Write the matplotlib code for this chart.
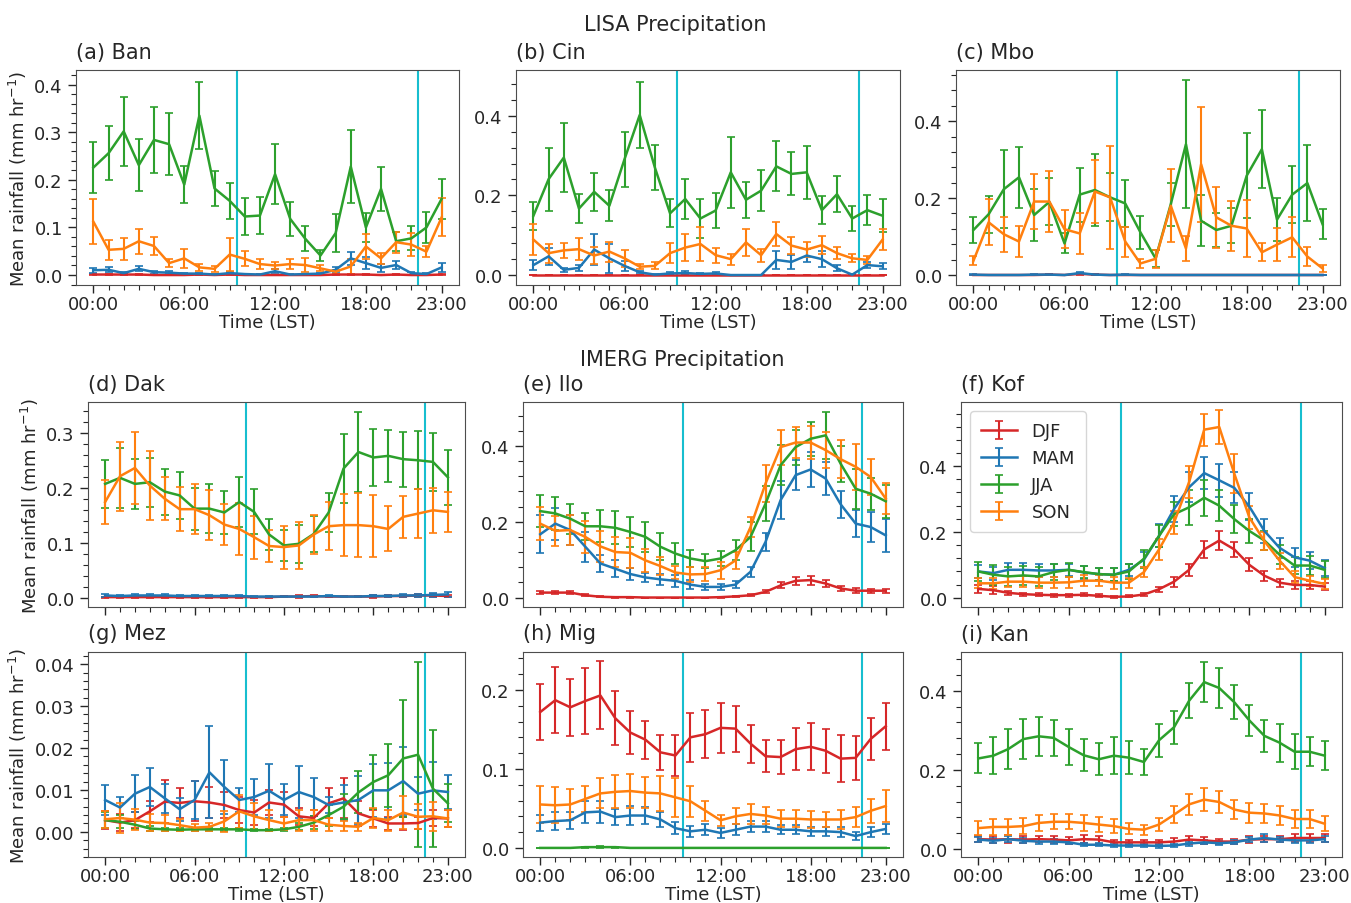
import matplotlib
matplotlib.use("Agg")
import matplotlib.pyplot as plt
from matplotlib.ticker import AutoMinorLocator, FixedLocator

hours = list(range(24))
hour_ticks = [0, 6, 12, 18, 23]
hour_labels = ["00:00", "06:00", "12:00", "18:00", "23:00"]
seasons = ["DJF", "MAM", "JJA", "SON"]
colors = ["tab:red", "tab:blue", "tab:green", "tab:orange"]
day_start, day_end = 9.47, 21.45

# ---- LISA ----
ban_djf = [0.001, 0.001, 0.001, 0.001, 0.000, 0.000, 0.000, 0.001, 0.000, 0.001, 0.000, 0.000,
           0.000, 0.000, 0.000, 0.000, 0.001, 0.001, 0.001, 0.000, 0.001, 0.000, 0.000, 0.001]
ban_djf_err = [0.0005, 0.0005, 0.0005, 0.0005, 0.0003, 0.0003, 0.0003, 0.0005, 0.0003, 0.0005, 0.0003, 0.0003,
               0.0003, 0.0003, 0.0003, 0.0003, 0.0005, 0.0005, 0.0005, 0.0003, 0.0005, 0.0003, 0.0003, 0.0005]
ban_mam = [0.010, 0.011, 0.004, 0.013, 0.006, 0.005, 0.003, 0.003, 0.001, 0.004, 0.002, 0.001,
           0.008, 0.001, 0.002, 0.003, 0.011, 0.035, 0.025, 0.015, 0.021, 0.004, 0.002, 0.016]
ban_mam_err = [0.005, 0.005, 0.002, 0.005, 0.003, 0.003, 0.002, 0.002, 0.001, 0.002, 0.001, 0.001,
               0.004, 0.001, 0.001, 0.002, 0.005, 0.013, 0.012, 0.008, 0.008, 0.003, 0.002, 0.009]
ban_jja = [0.226, 0.256, 0.302, 0.231, 0.284, 0.275, 0.190, 0.335, 0.182, 0.156, 0.123, 0.125,
           0.212, 0.118, 0.076, 0.041, 0.088, 0.228, 0.100, 0.181, 0.071, 0.077, 0.100, 0.160]
ban_jja_err = [0.053, 0.057, 0.072, 0.055, 0.069, 0.065, 0.039, 0.071, 0.037, 0.038, 0.038, 0.038,
               0.063, 0.035, 0.026, 0.012, 0.040, 0.076, 0.030, 0.047, 0.020, 0.025, 0.032, 0.042]
ban_son = [0.112, 0.053, 0.055, 0.071, 0.061, 0.025, 0.035, 0.016, 0.013, 0.043, 0.034, 0.023,
           0.020, 0.023, 0.021, 0.014, 0.007, 0.018, 0.060, 0.035, 0.069, 0.064, 0.049, 0.121]
ban_son_err = [0.047, 0.021, 0.023, 0.026, 0.019, 0.009, 0.020, 0.007, 0.006, 0.034, 0.016, 0.010,
               0.008, 0.010, 0.014, 0.006, 0.004, 0.016, 0.026, 0.012, 0.022, 0.024, 0.012, 0.040]

cin_djf = [0.000, 0.000, 0.000, 0.000, 0.000, 0.000, 0.000, 0.000, 0.000, 0.000, 0.000, 0.000,
           0.000, 0.000, 0.000, 0.000, 0.000, 0.000, 0.000, 0.000, 0.000, 0.000, 0.000, 0.000]
cin_djf_err = [0.0003, 0.0003, 0.0003, 0.0003, 0.0003, 0.0003, 0.0003, 0.0003, 0.0003, 0.0003, 0.0003, 0.0003,
               0.0003, 0.0003, 0.0003, 0.0003, 0.0003, 0.0003, 0.0003, 0.0003, 0.0003, 0.0003, 0.0003, 0.0003]
cin_mam = [0.025, 0.047, 0.013, 0.018, 0.064, 0.042, 0.023, 0.007, 0.001, 0.004, 0.005, 0.003,
           0.004, 0.000, 0.000, 0.000, 0.038, 0.033, 0.049, 0.040, 0.017, 0.001, 0.025, 0.022]
cin_mam_err = [0.012, 0.022, 0.005, 0.007, 0.040, 0.037, 0.012, 0.003, 0.001, 0.003, 0.005, 0.003,
               0.004, 0.000, 0.000, 0.000, 0.023, 0.018, 0.017, 0.020, 0.008, 0.001, 0.008, 0.008]
cin_jja = [0.149, 0.241, 0.295, 0.167, 0.209, 0.174, 0.291, 0.402, 0.270, 0.155, 0.191, 0.142,
           0.162, 0.258, 0.189, 0.212, 0.273, 0.254, 0.258, 0.163, 0.203, 0.142, 0.163, 0.149]
cin_jja_err = [0.035, 0.079, 0.086, 0.036, 0.048, 0.039, 0.069, 0.084, 0.056, 0.035, 0.050, 0.049,
               0.044, 0.089, 0.045, 0.051, 0.063, 0.054, 0.067, 0.036, 0.045, 0.031, 0.038, 0.041]
cin_son = [0.089, 0.055, 0.062, 0.065, 0.049, 0.059, 0.042, 0.021, 0.023, 0.055, 0.069, 0.078,
           0.050, 0.040, 0.082, 0.050, 0.103, 0.074, 0.064, 0.075, 0.055, 0.042, 0.038, 0.089]
cin_son_err = [0.038, 0.024, 0.019, 0.027, 0.021, 0.025, 0.021, 0.007, 0.009, 0.025, 0.033, 0.042,
               0.019, 0.014, 0.033, 0.016, 0.031, 0.021, 0.018, 0.022, 0.015, 0.010, 0.010, 0.026]

mbo_djf = [0.000, 0.000, 0.000, 0.000, 0.000, 0.001, 0.000, 0.003, 0.001, 0.000, 0.000, 0.000,
           0.000, 0.000, 0.000, 0.000, 0.000, 0.000, 0.000, 0.000, 0.000, 0.000, 0.000, 0.000]
mbo_djf_err = [0.0003, 0.0003, 0.0003, 0.0003, 0.0003, 0.0005, 0.0003, 0.002, 0.0005, 0.0003, 0.0003, 0.0003,
               0.0003, 0.0003, 0.0003, 0.0003, 0.0003, 0.0003, 0.0003, 0.0003, 0.0003, 0.0003, 0.0003, 0.0003]
mbo_mam = [0.001, 0.000, 0.000, 0.000, 0.001, 0.001, 0.000, 0.005, 0.001, 0.000, 0.001, 0.000,
           0.000, 0.000, 0.000, 0.000, 0.000, 0.000, 0.000, 0.000, 0.000, 0.000, 0.000, 0.000]
mbo_mam_err = [0.001, 0.0003, 0.0003, 0.0003, 0.0005, 0.0005, 0.0003, 0.003, 0.0005, 0.0003, 0.001, 0.0003,
               0.0003, 0.0003, 0.0003, 0.0003, 0.0003, 0.0003, 0.0003, 0.0003, 0.0003, 0.0003, 0.0003, 0.0003]
mbo_jja = [0.117, 0.158, 0.223, 0.254, 0.156, 0.190, 0.082, 0.209, 0.221, 0.202, 0.186, 0.111,
           0.043, 0.184, 0.340, 0.141, 0.117, 0.128, 0.258, 0.327, 0.144, 0.209, 0.239, 0.132]
mbo_jja_err = [0.034, 0.048, 0.102, 0.080, 0.068, 0.061, 0.026, 0.070, 0.093, 0.062, 0.060, 0.043,
               0.022, 0.056, 0.167, 0.066, 0.043, 0.045, 0.111, 0.102, 0.056, 0.074, 0.099, 0.039]
mbo_son = [0.037, 0.137, 0.106, 0.087, 0.191, 0.191, 0.119, 0.108, 0.217, 0.202, 0.087, 0.030,
           0.042, 0.180, 0.069, 0.288, 0.150, 0.128, 0.121, 0.059, 0.079, 0.098, 0.048, 0.017]
mbo_son_err = [0.012, 0.060, 0.045, 0.041, 0.072, 0.080, 0.050, 0.054, 0.081, 0.134, 0.039, 0.012,
               0.023, 0.095, 0.032, 0.149, 0.079, 0.065, 0.074, 0.023, 0.043, 0.052, 0.024, 0.009]

# ---- IMERG ----
dak_djf = [0.001, 0.001, 0.001, 0.001, 0.001, 0.001, 0.001, 0.001, 0.001, 0.001, 0.001, 0.001,
           0.002, 0.002, 0.003, 0.002, 0.002, 0.002, 0.002, 0.003, 0.003, 0.004, 0.004, 0.003]
dak_djf_err = [0.001, 0.001, 0.001, 0.001, 0.001, 0.001, 0.001, 0.001, 0.001, 0.001, 0.001, 0.001,
               0.001, 0.002, 0.002, 0.001, 0.001, 0.001, 0.002, 0.002, 0.002, 0.002, 0.002, 0.002]
dak_mam = [0.004, 0.003, 0.004, 0.004, 0.004, 0.003, 0.003, 0.003, 0.003, 0.003, 0.002, 0.002,
           0.002, 0.002, 0.002, 0.003, 0.002, 0.002, 0.003, 0.003, 0.004, 0.004, 0.005, 0.006]
dak_mam_err = [0.003, 0.002, 0.002, 0.002, 0.002, 0.001, 0.001, 0.001, 0.002, 0.001, 0.001, 0.001,
               0.001, 0.001, 0.001, 0.001, 0.001, 0.001, 0.001, 0.001, 0.002, 0.002, 0.003, 0.004]
dak_jja = [0.207, 0.218, 0.207, 0.210, 0.193, 0.186, 0.162, 0.162, 0.155, 0.174, 0.156, 0.115,
           0.095, 0.098, 0.116, 0.155, 0.235, 0.265, 0.255, 0.258, 0.252, 0.250, 0.247, 0.219]
dak_jja_err = [0.044, 0.055, 0.045, 0.045, 0.042, 0.042, 0.038, 0.044, 0.039, 0.045, 0.041, 0.028,
               0.029, 0.035, 0.033, 0.036, 0.063, 0.072, 0.051, 0.047, 0.050, 0.053, 0.053, 0.050]
dak_son = [0.174, 0.221, 0.236, 0.204, 0.180, 0.161, 0.161, 0.150, 0.133, 0.125, 0.110, 0.094,
           0.092, 0.095, 0.115, 0.130, 0.132, 0.132, 0.130, 0.125, 0.147, 0.153, 0.159, 0.156]
dak_son_err = [0.040, 0.063, 0.066, 0.062, 0.039, 0.040, 0.045, 0.046, 0.038, 0.048, 0.039, 0.030,
               0.039, 0.042, 0.036, 0.044, 0.057, 0.058, 0.056, 0.041, 0.038, 0.045, 0.041, 0.036]

ilo_djf = [0.013, 0.013, 0.013, 0.006, 0.002, 0.001, 0.001, 0.000, 0.000, 0.000, 0.000, 0.000,
           0.001, 0.003, 0.006, 0.015, 0.032, 0.044, 0.046, 0.037, 0.024, 0.018, 0.018, 0.018]
ilo_djf_err = [0.003, 0.003, 0.003, 0.002, 0.001, 0.001, 0.001, 0.000, 0.000, 0.000, 0.000, 0.000,
               0.001, 0.001, 0.002, 0.004, 0.008, 0.010, 0.012, 0.010, 0.006, 0.006, 0.005, 0.005]
ilo_mam = [0.167, 0.195, 0.178, 0.134, 0.090, 0.076, 0.062, 0.053, 0.048, 0.044, 0.034, 0.028,
           0.028, 0.034, 0.068, 0.147, 0.257, 0.323, 0.338, 0.314, 0.246, 0.195, 0.186, 0.164]
ilo_mam_err = [0.050, 0.042, 0.040, 0.040, 0.022, 0.022, 0.015, 0.013, 0.015, 0.015, 0.011, 0.007,
               0.007, 0.010, 0.013, 0.024, 0.050, 0.040, 0.046, 0.044, 0.035, 0.035, 0.040, 0.044]
ilo_jja = [0.228, 0.222, 0.208, 0.188, 0.188, 0.184, 0.173, 0.160, 0.134, 0.116, 0.103, 0.096,
           0.103, 0.125, 0.160, 0.248, 0.349, 0.397, 0.419, 0.428, 0.353, 0.287, 0.274, 0.254]
ilo_jja_err = [0.042, 0.043, 0.040, 0.036, 0.042, 0.044, 0.040, 0.040, 0.036, 0.028, 0.022, 0.018,
               0.019, 0.026, 0.038, 0.046, 0.053, 0.046, 0.045, 0.062, 0.048, 0.053, 0.042, 0.044]
ilo_son = [0.195, 0.176, 0.178, 0.160, 0.135, 0.120, 0.118, 0.098, 0.083, 0.066, 0.061, 0.062,
           0.072, 0.098, 0.186, 0.301, 0.397, 0.409, 0.409, 0.389, 0.365, 0.345, 0.318, 0.261]
ilo_son_err = [0.044, 0.040, 0.040, 0.043, 0.040, 0.040, 0.039, 0.031, 0.023, 0.018, 0.020, 0.019,
               0.022, 0.022, 0.026, 0.048, 0.046, 0.041, 0.043, 0.047, 0.050, 0.060, 0.048, 0.040]

kof_djf = [0.027, 0.023, 0.015, 0.011, 0.009, 0.008, 0.008, 0.009, 0.006, 0.003, 0.004, 0.010,
           0.026, 0.049, 0.085, 0.147, 0.174, 0.147, 0.100, 0.067, 0.046, 0.039, 0.039, 0.034]
kof_djf_err = [0.013, 0.012, 0.007, 0.005, 0.005, 0.005, 0.005, 0.005, 0.004, 0.003, 0.003, 0.004,
               0.008, 0.015, 0.018, 0.025, 0.030, 0.022, 0.020, 0.015, 0.012, 0.012, 0.012, 0.010]
kof_mam = [0.080, 0.075, 0.085, 0.085, 0.083, 0.083, 0.085, 0.077, 0.072, 0.070, 0.085, 0.116,
           0.188, 0.270, 0.336, 0.379, 0.357, 0.334, 0.277, 0.203, 0.152, 0.123, 0.113, 0.090]
kof_mam_err = [0.021, 0.020, 0.020, 0.020, 0.020, 0.020, 0.019, 0.019, 0.019, 0.020, 0.019, 0.023,
               0.035, 0.040, 0.045, 0.049, 0.051, 0.047, 0.041, 0.037, 0.031, 0.028, 0.027, 0.024]
kof_jja = [0.080, 0.070, 0.065, 0.068, 0.065, 0.078, 0.085, 0.078, 0.072, 0.070, 0.080, 0.119,
           0.188, 0.254, 0.275, 0.304, 0.280, 0.239, 0.203, 0.174, 0.131, 0.098, 0.098, 0.085]
kof_jja_err = [0.030, 0.030, 0.028, 0.028, 0.028, 0.024, 0.022, 0.019, 0.018, 0.020, 0.022, 0.027,
               0.034, 0.036, 0.053, 0.055, 0.047, 0.042, 0.037, 0.030, 0.029, 0.026, 0.028, 0.026]
kof_son = [0.044, 0.044, 0.049, 0.049, 0.046, 0.046, 0.047, 0.052, 0.052, 0.046, 0.046, 0.078,
           0.147, 0.229, 0.352, 0.511, 0.519, 0.377, 0.244, 0.172, 0.113, 0.063, 0.052, 0.042]
kof_son_err = [0.015, 0.017, 0.017, 0.017, 0.017, 0.017, 0.017, 0.017, 0.017, 0.018, 0.015, 0.015,
               0.031, 0.036, 0.049, 0.049, 0.051, 0.059, 0.034, 0.027, 0.024, 0.018, 0.015, 0.015]

mez_djf = [0.0028, 0.0022, 0.0028, 0.0049, 0.0072, 0.0069, 0.0073, 0.0070, 0.0064, 0.0052, 0.0046, 0.0070,
           0.0065, 0.0037, 0.0033, 0.0068, 0.0080, 0.0044, 0.0032, 0.0020, 0.0020, 0.0021, 0.0033, 0.0032]
mez_djf_err = [0.0022, 0.0020, 0.0020, 0.0025, 0.0052, 0.0036, 0.0048, 0.0036, 0.0030, 0.0030, 0.0030, 0.0030,
               0.0030, 0.0020, 0.0020, 0.0036, 0.0048, 0.0030, 0.0020, 0.0015, 0.0015, 0.0015, 0.0020, 0.0020]
mez_mam = [0.0076, 0.0058, 0.0091, 0.0107, 0.0080, 0.0054, 0.0076, 0.0142, 0.0107, 0.0076, 0.0083, 0.0098,
           0.0076, 0.0095, 0.0083, 0.0064, 0.0070, 0.0076, 0.0099, 0.0099, 0.0121, 0.0091, 0.0099, 0.0095]
mez_mam_err = [0.0036, 0.0024, 0.0044, 0.0045, 0.0035, 0.0027, 0.0046, 0.0110, 0.0065, 0.0029, 0.0042, 0.0064,
               0.0037, 0.0061, 0.0046, 0.0020, 0.0042, 0.0058, 0.0064, 0.0065, 0.0082, 0.0040, 0.0068, 0.0040]
mez_jja = [0.0028, 0.0024, 0.0017, 0.0008, 0.0006, 0.0005, 0.0006, 0.0006, 0.0006, 0.0006, 0.0004, 0.0004,
           0.0006, 0.0012, 0.0022, 0.0040, 0.0060, 0.0094, 0.0119, 0.0135, 0.0175, 0.0184, 0.0103, 0.0068]
mez_jja_err = [0.0020, 0.0015, 0.0010, 0.0005, 0.0004, 0.0003, 0.0004, 0.0004, 0.0004, 0.0004, 0.0003, 0.0003,
               0.0004, 0.0008, 0.0015, 0.0025, 0.0030, 0.0050, 0.0064, 0.0075, 0.0140, 0.0220, 0.0140, 0.0045]
mez_son = [0.0030, 0.0033, 0.0029, 0.0022, 0.0021, 0.0016, 0.0010, 0.0012, 0.0025, 0.0049, 0.0037, 0.0028,
           0.0020, 0.0028, 0.0028, 0.0017, 0.0014, 0.0012, 0.0033, 0.0028, 0.0046, 0.0036, 0.0037, 0.0032]
mez_son_err = [0.0020, 0.0035, 0.0025, 0.0020, 0.0018, 0.0015, 0.0008, 0.0010, 0.0025, 0.0040, 0.0032, 0.0025,
               0.0015, 0.0025, 0.0025, 0.0015, 0.0012, 0.0010, 0.0025, 0.0025, 0.0040, 0.0030, 0.0035, 0.0020]

mig_djf = [0.172, 0.187, 0.178, 0.186, 0.193, 0.164, 0.146, 0.137, 0.121, 0.117, 0.140, 0.144,
           0.152, 0.151, 0.132, 0.116, 0.115, 0.125, 0.128, 0.123, 0.113, 0.114, 0.138, 0.154]
mig_djf_err = [0.035, 0.042, 0.036, 0.042, 0.043, 0.034, 0.027, 0.024, 0.022, 0.026, 0.031, 0.030,
               0.032, 0.029, 0.024, 0.020, 0.021, 0.027, 0.030, 0.028, 0.030, 0.028, 0.027, 0.030]
mig_mam = [0.032, 0.034, 0.035, 0.045, 0.046, 0.039, 0.041, 0.041, 0.036, 0.025, 0.021, 0.023,
           0.019, 0.023, 0.027, 0.027, 0.023, 0.023, 0.021, 0.021, 0.020, 0.015, 0.020, 0.024]
mig_mam_err = [0.010, 0.011, 0.011, 0.014, 0.014, 0.010, 0.012, 0.011, 0.009, 0.008, 0.007, 0.007,
               0.006, 0.007, 0.007, 0.007, 0.006, 0.006, 0.006, 0.006, 0.006, 0.005, 0.006, 0.006]
mig_jja = [0.000, 0.000, 0.000, 0.001, 0.001, 0.001, 0.000, 0.000, 0.000, 0.000, 0.000, 0.000,
           0.000, 0.000, 0.000, 0.000, 0.000, 0.000, 0.000, 0.000, 0.000, 0.000, 0.000, 0.000]
mig_jja_err = [0.0003, 0.0003, 0.0003, 0.0005, 0.0008, 0.0005, 0.0003, 0.0003, 0.0003, 0.0003, 0.0003, 0.0003,
               0.0003, 0.0003, 0.0003, 0.0003, 0.0003, 0.0003, 0.0003, 0.0003, 0.0003, 0.0003, 0.0003, 0.0003]
mig_son = [0.055, 0.054, 0.055, 0.062, 0.069, 0.071, 0.072, 0.070, 0.069, 0.064, 0.059, 0.047,
           0.035, 0.040, 0.043, 0.041, 0.037, 0.037, 0.036, 0.036, 0.036, 0.039, 0.047, 0.053]
mig_son_err = [0.024, 0.023, 0.020, 0.017, 0.019, 0.021, 0.022, 0.020, 0.022, 0.025, 0.020, 0.013,
               0.007, 0.010, 0.013, 0.011, 0.011, 0.011, 0.011, 0.009, 0.012, 0.013, 0.015, 0.020]

kan_djf = [0.025, 0.024, 0.025, 0.024, 0.025, 0.024, 0.022, 0.025, 0.024, 0.017, 0.017, 0.017,
           0.017, 0.019, 0.024, 0.022, 0.019, 0.019, 0.024, 0.025, 0.025, 0.028, 0.028, 0.028]
kan_djf_err = [0.008, 0.008, 0.010, 0.008, 0.008, 0.008, 0.008, 0.010, 0.010, 0.007, 0.007, 0.007,
               0.007, 0.008, 0.010, 0.008, 0.007, 0.007, 0.008, 0.008, 0.008, 0.010, 0.010, 0.009]
kan_mam = [0.024, 0.021, 0.025, 0.021, 0.019, 0.019, 0.017, 0.011, 0.011, 0.009, 0.009, 0.009,
           0.008, 0.009, 0.014, 0.017, 0.015, 0.017, 0.024, 0.028, 0.024, 0.022, 0.022, 0.025]
kan_mam_err = [0.007, 0.006, 0.007, 0.006, 0.006, 0.006, 0.005, 0.004, 0.004, 0.004, 0.004, 0.004,
               0.004, 0.004, 0.005, 0.005, 0.005, 0.005, 0.007, 0.010, 0.007, 0.006, 0.006, 0.007]
kan_jja = [0.229, 0.236, 0.253, 0.278, 0.285, 0.281, 0.258, 0.237, 0.227, 0.236, 0.231, 0.220,
           0.275, 0.308, 0.375, 0.422, 0.407, 0.371, 0.325, 0.286, 0.269, 0.246, 0.246, 0.236]
kan_jja_err = [0.038, 0.047, 0.050, 0.051, 0.049, 0.046, 0.045, 0.040, 0.040, 0.047, 0.042, 0.033,
               0.042, 0.042, 0.045, 0.050, 0.050, 0.043, 0.039, 0.040, 0.048, 0.044, 0.036, 0.036]
kan_son = [0.053, 0.056, 0.056, 0.058, 0.066, 0.069, 0.069, 0.066, 0.062, 0.058, 0.051, 0.049,
           0.062, 0.087, 0.113, 0.125, 0.119, 0.100, 0.092, 0.090, 0.085, 0.076, 0.076, 0.064]
kan_son_err = [0.018, 0.020, 0.020, 0.020, 0.020, 0.019, 0.019, 0.021, 0.018, 0.018, 0.014, 0.013,
               0.016, 0.022, 0.027, 0.030, 0.027, 0.025, 0.025, 0.023, 0.025, 0.023, 0.023, 0.019]

W, H = 1351, 904


def px_rect(left, right, top, bottom):
    return [left / W, 1 - bottom / H, (right - left) / W, (bottom - top) / H]


panels = [
    ("(a) Ban", [ban_djf, ban_mam, ban_jja, ban_son], [ban_djf_err, ban_mam_err, ban_jja_err, ban_son_err],
     (-0.021, 0.431), px_rect(76, 459, 71, 286), 1),
    ("(b) Cin", [cin_djf, cin_mam, cin_jja, cin_son], [cin_djf_err, cin_mam_err, cin_jja_err, cin_son_err],
     (-0.025, 0.515), px_rect(516, 900, 71, 286), 1),
    ("(c) Mbo", [mbo_djf, mbo_mam, mbo_jja, mbo_son], [mbo_djf_err, mbo_mam_err, mbo_jja_err, mbo_son_err],
     (-0.026, 0.533), px_rect(956, 1340, 71, 286), 1),
    ("(d) Dak", [dak_djf, dak_mam, dak_jja, dak_son], [dak_djf_err, dak_mam_err, dak_jja_err, dak_son_err],
     (-0.017, 0.356), px_rect(88, 465, 403, 608), 2),
    ("(e) Ilo", [ilo_djf, ilo_mam, ilo_jja, ilo_son], [ilo_djf_err, ilo_mam_err, ilo_jja_err, ilo_son_err],
     (-0.025, 0.516), px_rect(523, 903, 403, 608), 2),
    ("(f) Kof", [kof_djf, kof_mam, kof_jja, kof_son], [kof_djf_err, kof_mam_err, kof_jja_err, kof_son_err],
     (-0.028, 0.595), px_rect(961, 1342, 403, 608), 2),
    ("(g) Mez", [mez_djf, mez_mam, mez_jja, mez_son], [mez_djf_err, mez_mam_err, mez_jja_err, mez_son_err],
     (-0.006, 0.0429), px_rect(88, 465, 653, 858), 3),
    ("(h) Mig", [mig_djf, mig_mam, mig_jja, mig_son], [mig_djf_err, mig_mam_err, mig_jja_err, mig_son_err],
     (-0.0115, 0.248), px_rect(523, 903, 653, 858), 3),
    ("(i) Kan", [kan_djf, kan_mam, kan_jja, kan_son], [kan_djf_err, kan_mam_err, kan_jja_err, kan_son_err],
     (-0.02, 0.498), px_rect(961, 1342, 653, 858), 3),
]

plt.rcParams["font.family"] = "DejaVu Sans"
plt.rcParams["text.color"] = "0.15"
plt.rcParams["axes.labelcolor"] = "0.15"
plt.rcParams["xtick.color"] = "0.15"
plt.rcParams["ytick.color"] = "0.15"
plt.rcParams["axes.edgecolor"] = "0.3"

fig = plt.figure(figsize=(W / 100, H / 100), dpi=100)

for i, (title, series, errs, ylim, rect, row) in enumerate(panels):
    ax = fig.add_axes(rect)
    for vals, err, name, c in zip(series, errs, seasons, colors):
        ax.errorbar(hours, vals, yerr=err, color=c, lw=1.8, elinewidth=1.5,
                    capsize=3, capthick=1.2, label=name)
    ax.axvline(day_start, color="tab:cyan", lw=1.5)
    ax.axvline(day_end, color="tab:cyan", lw=1.5)
    ax.set_xlim(-1.15, 24.15)
    ax.set_ylim(*ylim)
    ax.xaxis.set_major_locator(FixedLocator(hour_ticks))
    ax.xaxis.set_minor_locator(FixedLocator(hours))
    ax.yaxis.set_minor_locator(AutoMinorLocator(5))
    ax.tick_params(which="major", length=6, width=1, labelsize=13)
    ax.tick_params(axis="x", which="major", pad=1.5)
    ax.tick_params(which="minor", length=3.5, width=0.8)
    if row == 2:
        ax.set_xticklabels([])
    else:
        ax.set_xticklabels(hour_labels)
        ax.set_xlabel("Time (LST)", fontsize=13, labelpad=0)
    if i % 3 == 0:
        ax.set_ylabel("Mean rainfall (mm hr$^{-1}$)", fontsize=13)
    ax.set_title(title, loc="left", fontsize=15, pad=9)
    if title.startswith("(f)"):
        ax.legend(loc="upper left", fontsize=13, borderpad=0.6)

fig.text(0.5, 1 - 25 / H, "LISA Precipitation", ha="center", va="center", fontsize=15)
fig.text(0.505, 1 - 360 / H, "IMERG Precipitation", ha="center", va="center", fontsize=15)

fig.savefig("out.png", dpi=100)
